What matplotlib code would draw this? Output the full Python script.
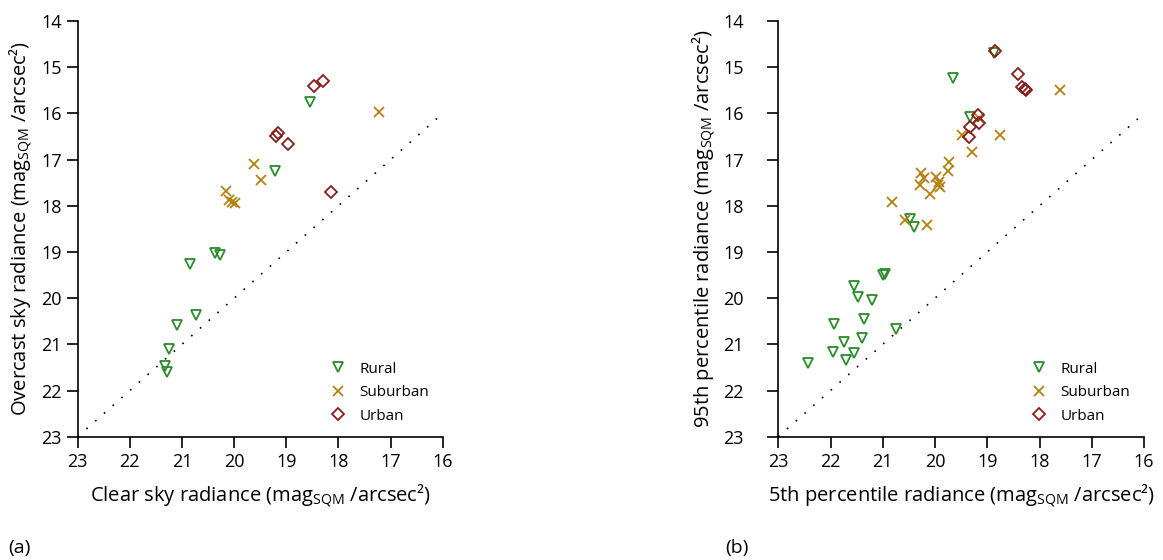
import matplotlib
matplotlib.use("Agg")
import matplotlib.pyplot as plt

plt.rcParams['font.family'] = ['Open Sans', 'DejaVu Sans']

# panel (a): clear sky vs overcast sky
rural_a_x = [18.54, 19.22, 20.37, 20.28, 20.85, 20.74, 21.10, 21.24, 21.33, 21.29]
rural_a_y = [15.75, 17.24, 19.02, 19.07, 19.27, 20.36, 20.58, 21.11, 21.47, 21.61]
sub_a_x = [17.22, 19.61, 19.48, 20.16, 20.10, 20.05, 19.99]
sub_a_y = [15.96, 17.09, 17.44, 17.67, 17.87, 17.92, 17.95]
urban_a_x = [18.29, 18.46, 19.15, 19.20, 18.97, 18.15]
urban_a_y = [15.30, 15.41, 16.42, 16.49, 16.66, 17.70]

# panel (b): 5th vs 95th percentile
rural_b_x = [18.87, 19.66, 19.34, 20.48, 20.41, 20.99, 20.96, 21.56, 21.47, 21.21,
             21.36, 21.93, 20.74, 21.40, 21.74, 21.96, 21.55, 21.71, 22.44]
rural_b_y = [14.70, 15.23, 16.08, 18.29, 18.45, 19.50, 19.48, 19.73, 19.98, 20.03,
             20.46, 20.56, 20.66, 20.87, 20.96, 21.16, 21.19, 21.34, 21.40]
sub_b_x = [17.60, 19.16, 19.49, 18.76, 19.29, 19.73, 19.76, 20.27, 20.22, 19.99,
           19.92, 19.94, 19.90, 20.28, 20.10, 20.83, 20.57, 20.15]
sub_b_y = [15.49, 16.11, 16.46, 16.47, 16.83, 17.05, 17.25, 17.30, 17.40, 17.38,
           17.48, 17.56, 17.59, 17.56, 17.75, 17.91, 18.31, 18.42]
urban_b_x = [18.85, 18.41, 18.34, 18.28, 18.25, 19.17, 19.16, 19.34, 19.35]
urban_b_y = [14.65, 15.15, 15.43, 15.47, 15.50, 16.03, 16.20, 16.29, 16.51]

ticks = [23, 22, 21, 20, 19, 18, 17, 16]
yticks = [14, 15, 16, 17, 18, 19, 20, 21, 22, 23]
unit = r' (mag$_{\mathregular{SQM}}$ /arcsec²)'

c_rural = '#2a8c2a'
c_sub = '#b5800f'
c_urban = '#8b1c1c'


def panel(ax, rx, ry, sx, sy, ux, uy, xlab, ylab, ypad, ylab_x):
    ax.plot([23, 16], [23, 16], color='black', linewidth=1.2, dashes=(1, 6))
    ax.plot(rx, ry, linestyle='none', marker='v', markersize=7.5, markerfacecolor='none',
            markeredgecolor=c_rural, markeredgewidth=1.3, label='Rural')
    ax.plot(sx, sy, linestyle='none', marker='x', markersize=7,
            color=c_sub, markeredgewidth=1.3, label='Suburban')
    ax.plot(ux, uy, linestyle='none', marker='D', markersize=6.5, markerfacecolor='none',
            markeredgecolor=c_urban, markeredgewidth=1.3, label='Urban')
    ax.set_xlim(23, 16)
    ax.set_ylim(23, 14)
    ax.set_xticks(ticks)
    ax.set_yticks(yticks)
    ax.spines['top'].set_visible(False)
    ax.spines['right'].set_visible(False)
    for s in ['left', 'bottom']:
        ax.spines[s].set_linewidth(1.2)
    ax.tick_params(axis='both', direction='out', length=8, width=1.2, labelsize=13)
    ax.tick_params(axis='x', pad=4)
    ax.tick_params(axis='y', pad=ypad)
    ax.set_xlabel(xlab + unit, fontsize=14.5)
    ax.set_ylabel(ylab + unit, fontsize=14.5)
    ax.xaxis.set_label_coords(0.5, -0.111)
    ax.yaxis.set_label_coords(ylab_x, 0.5)
    ax.legend(loc='center left', bbox_to_anchor=(0.655, 0.106), frameon=False,
              fontsize=11, handlelength=1.0, handletextpad=0.9, labelspacing=0.55)


fig = plt.figure(figsize=(11.63, 5.6), dpi=100)
ax1 = fig.add_axes([0.0668, 0.2202, 0.3139, 0.7423])
ax2 = fig.add_axes([0.6692, 0.2202, 0.3145, 0.7423])

panel(ax1, rural_a_x, rural_a_y, sub_a_x, sub_a_y, urban_a_x, urban_a_y,
      'Clear sky radiance', 'Overcast sky radiance', 3.5, -0.117)
panel(ax2, rural_b_x, rural_b_y, sub_b_x, sub_b_y, urban_b_x, urban_b_y,
      '5th percentile radiance', '95th percentile radiance', 17, -0.165)

fig.text(0.007, 0.021, '(a)', fontsize=14, va='center', ha='left')
fig.text(0.624, 0.021, '(b)', fontsize=14, va='center', ha='left')

fig.savefig('out.png', dpi=100)
